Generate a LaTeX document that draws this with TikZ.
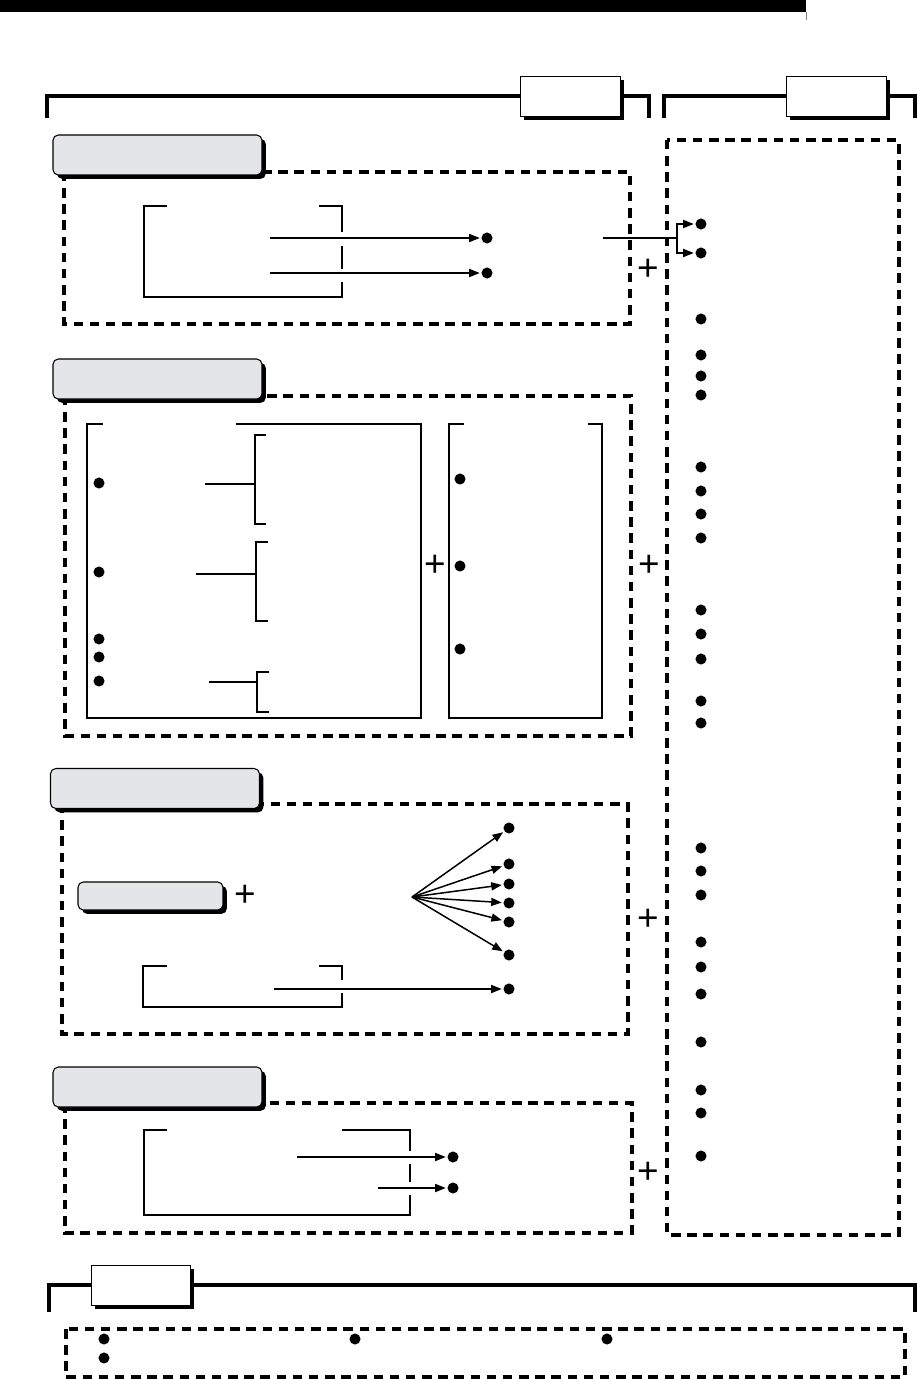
\documentclass[tikz,border=0pt]{standalone}
\usepackage{xcolor}
\usepackage{fontspec}
\usepackage{tikz}
\usetikzlibrary{arrows.meta, shadows}
\newfontfamily\plusfont{Liberation Sans}
\definecolor{tabgray}{HTML}{E4E5E9}

\begin{document}
\begin{tikzpicture}[
    x=0.02cm, y=-0.02cm,
    tab/.style={draw, rounded corners=3pt, fill=tabgray, line width=0.6pt, inner sep=0pt,
        minimum width=4.18cm, minimum height=0.8cm,
        drop shadow={shadow xshift=2.2pt, shadow yshift=-2.2pt, fill=black, opacity=1}},
    hdr/.style={draw, fill=white, line width=0.5pt, inner sep=0pt,
        minimum width=2cm, minimum height=0.8cm,
        drop shadow={shadow xshift=2.2pt, shadow yshift=-2.2pt, fill=black, opacity=1}},
    frame/.style={line width=2.2pt, dash pattern=on 5.4pt off 3.8pt},
    bracket/.style={line width=2.2pt},
    thinline/.style={line width=0.85pt},
    dot/.style={circle, fill, inner sep=0pt, minimum size=6.3pt, outer sep=1pt},
    plus/.style={inner sep=0pt, font=\plusfont\fontsize{21}{21}\selectfont},
    arrow/.style={thinline, -{Stealth[length=6pt, width=4.6pt, inset=0pt]}}
]
    \useasboundingbox (0,0) rectangle (917,1379);

    \fill (0,0) rectangle (806,12);
    \draw[gray, line width=0.4pt] (806,12) -- (806,20);

    \node[hdr] (hdrA) at (570,96) {};
    \node[hdr] (hdrB) at (836,96) {};
    \draw[bracket] (47,118) |- (hdrA.west);
    \draw[bracket] (hdrA.east) -| (649,118);
    \draw[bracket] (664,118) |- (hdrB.west);
    \draw[bracket] (hdrB.east) -| (915,118);

    \draw[frame] (667,140) rectangle (899,1235);
    \foreach \y [count=\i] in {224,253,319,355,376,395,467,491,514,538,610,634,659,701,723,848,871,895,942,967,994,1042,1090,1113,1156}
        \node[dot] (c\i) at (701,\y) {};

    % first group
    \draw[frame] (64,172) rectangle (630,324);
    \node[tab] (sec1) at (157.5,155) {};
    \draw[thinline] (167,206) -- (144,206) -- (144,297) -- (342,297) -- (342,282);
    \draw[thinline] (342,269) -- (342,246);
    \draw[thinline] (342,232) -- (342,206) -- (319,206);
    \node[dot] (d11) at (487,238) {};
    \node[dot] (d12) at (487,273) {};
    \coordinate (a11) at (270,238);
    \coordinate (a12) at (270,273);
    \draw[arrow] (a11) -- (d11);
    \draw[arrow] (a12) -- (d12);
    \coordinate (out1) at (603,238);
    \coordinate (fork1) at (677,238);
    \draw[thinline] (out1) -- (fork1);
    \draw[arrow] (fork1) |- (c1);
    \draw[arrow] (fork1) |- (c2);
    \node[plus] (p1) at (648,270) {+};

    % second group
    \draw[frame] (65,396) rectangle (631,736);
    \node[tab] (sec2) at (157.5,379) {};
    \draw[thinline] (103,424) -- (87,424) -- (87,718) -- (421,718) -- (421,424) -- (236,424);
    \draw[thinline] (464,424) -- (449,424) -- (449,718) -- (602,718) -- (602,424) -- (588,424);
    \node[dot] (d21) at (99,483) {};
    \node[dot] (d22) at (99,572) {};
    \node[dot] (d23) at (99,639) {};
    \node[dot] (d24) at (99,657) {};
    \node[dot] (d25) at (99,681) {};
    \draw[thinline] (205,484) -- (255,484);
    \draw[thinline] (266,435) -- (255,435) -- (255,524) -- (266,524);
    \draw[thinline] (196,574) -- (256,574);
    \draw[thinline] (268,542) -- (256,542) -- (256,621) -- (268,621);
    \draw[thinline] (209,682) -- (257,682);
    \draw[thinline] (269,672) -- (257,672) -- (257,712) -- (269,712);
    \node[dot] (e21) at (460,479) {};
    \node[dot] (e22) at (460,566) {};
    \node[dot] (e23) at (460,649) {};
    \node[plus] (p2) at (435,566) {+};
    \node[plus] (p3) at (649,566) {+};

    % third group
    \draw[frame] (62,804) rectangle (628,1034);
    \node[tab] (sec3) at (155,788.5) {};
    \node[tab, minimum width=2.9cm, minimum height=0.56cm] (sub3) at (150.5,896) {};
    \node[plus] (p4) at (245,896) {+};
    \coordinate (fan) at (412,897);
    \node[dot] (d31) at (509,828) {};
    \node[dot] (d32) at (509,864) {};
    \node[dot] (d33) at (509,884) {};
    \node[dot] (d34) at (509,903) {};
    \node[dot] (d35) at (509,922) {};
    \node[dot] (d36) at (509,955) {};
    \node[dot] (d37) at (509,989) {};
    \draw[arrow] (fan) -- (d31);
    \draw[arrow] (fan) -- (d32);
    \draw[arrow] (fan) -- (d33);
    \draw[arrow] (fan) -- (d34);
    \draw[arrow] (fan) -- (d35);
    \draw[arrow] (fan) -- (d36);
    \draw[thinline] (167,966) -- (143,966) -- (143,1007) -- (342,1007) -- (342,993);
    \draw[thinline] (342,980) -- (342,966) -- (319,966);
    \coordinate (a37) at (274,989);
    \draw[arrow] (a37) -- (d37);
    \node[plus] (p5) at (648,920) {+};

    % fourth group
    \draw[frame] (65,1103) rectangle (632,1233);
    \node[tab] (sec4) at (157.5,1087) {};
    \draw[thinline] (167,1130) -- (144,1130) -- (144,1215) -- (410,1215) -- (410,1195);
    \draw[thinline] (410,1182) -- (410,1164);
    \draw[thinline] (410,1151) -- (410,1130) -- (342,1130);
    \node[dot] (d41) at (453,1157) {};
    \node[dot] (d42) at (453,1188) {};
    \coordinate (a41) at (297,1157);
    \coordinate (a42) at (378,1188);
    \draw[arrow] (a41) -- (d41);
    \draw[arrow] (a42) -- (d42);
    \node[plus] (p6) at (648,1173) {+};

    % notes
    \node[hdr, minimum width=1.98cm] (hdrC) at (140.5,1285) {};
    \draw[bracket] (49,1312) |- (hdrC.west);
    \draw[bracket] (hdrC.east) -| (915,1312);
    \draw[frame] (66,1329) rectangle (905,1377);
    \node[dot] (n1) at (104,1339) {};
    \node[dot] (n2) at (355,1339) {};
    \node[dot] (n3) at (607,1339) {};
    \node[dot] (n4) at (104,1358) {};
\end{tikzpicture}
\end{document}
